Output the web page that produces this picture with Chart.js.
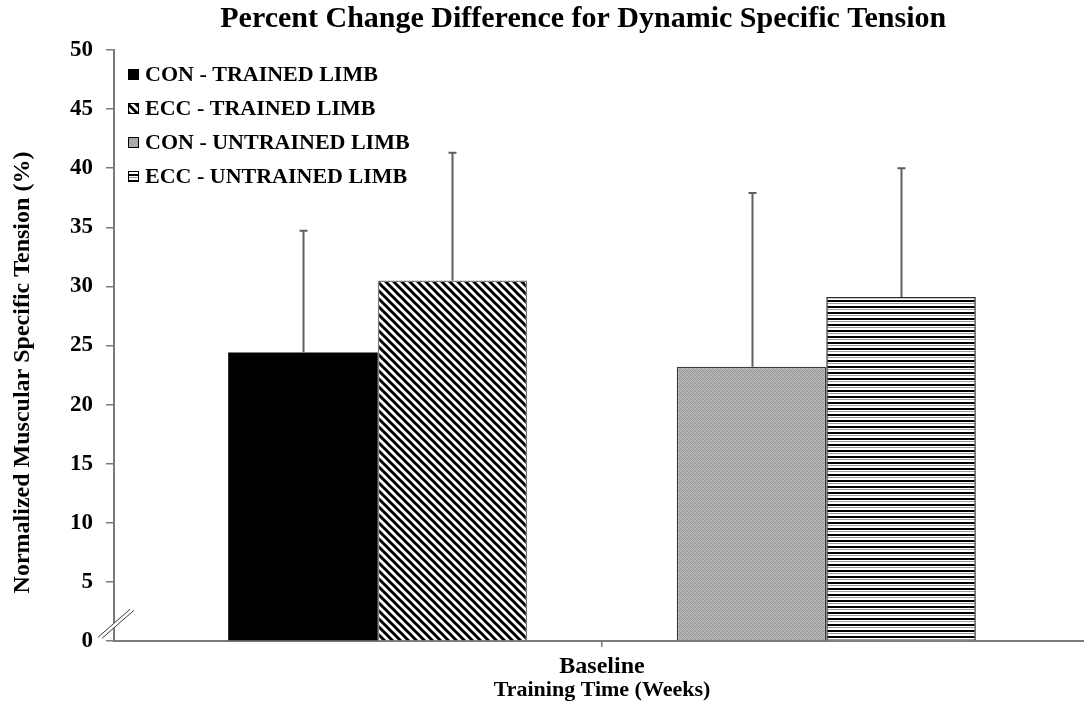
<!DOCTYPE html>
<html>
<head>
<meta charset="utf-8">
<script src="https://cdn.jsdelivr.net/npm/chart.js@4.4.1/dist/chart.umd.min.js"></script>
<style>
  html, body { margin: 0; padding: 0; background: #ffffff; overflow: hidden; }
  #wrap { width: 1084px; height: 714px; overflow: hidden; position: relative; }
  canvas { display: block; }
</style>
</head>
<body>
<div id="wrap"><canvas id="chart" width="1092" height="714"></canvas></div>
<script>
// ---- data ----
const categories = ['Baseline'];
const seriesNames = ['CON - TRAINED LIMB', 'ECC - TRAINED LIMB', 'CON - UNTRAINED LIMB', 'ECC - UNTRAINED LIMB'];
const conTrained = [24.4];
const eccTrained = [30.5];
const conUntrained = [23.2];
const eccUntrained = [29.1];
// upper error (SD) for each bar
const conTrainedSD = [10.3];
const eccTrainedSD = [10.8];
const conUntrainedSD = [14.7];
const eccUntrainedSD = [10.9];
const yTickValues = [0, 5, 10, 15, 20, 25, 30, 35, 40, 45, 50];

const SERIF = '"Liberation Serif", "Times New Roman", serif';
// trailing spaces nudge a centred title off the plot's midline
const pad = (s, n) => s + ' '.repeat(n);

// ---- fill patterns ----
function tile(w, h, paint) {
  const c = document.createElement('canvas');
  c.width = w; c.height = h;
  const g = c.getContext('2d');
  paint(g, w, h);
  return g.createPattern(c, 'repeat');
}
const diagonalStripes = tile(8, 8, (g, w, h) => {
  g.fillStyle = '#ffffff'; g.fillRect(0, 0, w, h);
  g.strokeStyle = '#000000'; g.lineWidth = 3; g.lineCap = 'square';
  for (const o of [-8, 0, 8]) {
    g.beginPath(); g.moveTo(o, 0); g.lineTo(o + 8, 8); g.stroke();
  }
});
const grayStipple = tile(4, 4, (g) => {
  const shades = ['#9c9c9c', '#b2b2b2', '#a8a8a8', '#bababa',
                  '#b0b0b0', '#a0a0a0', '#b8b8b8', '#a4a4a4',
                  '#a6a6a6', '#b6b6b6', '#9e9e9e', '#aeaeae',
                  '#b4b4b4', '#a2a2a2', '#acacac', '#9a9a9a'];
  shades.forEach((s, i) => { g.fillStyle = s; g.fillRect(i % 4, Math.floor(i / 4), 1, 1); });
});
const horizontalStripes = tile(6, 6, (g, w) => {
  const rows = ['#000000', '#000000', '#ffffff', '#9a9a9a', '#ffffff', '#ffffff'];
  rows.forEach((s, i) => { g.fillStyle = s; g.fillRect(0, i, w, 1); });
});

// ---- plugins ----
const errorBars = {
  id: 'errorBars',
  afterDatasetsDraw(chart) {
    const { ctx } = chart;
    const y = chart.scales.y;
    chart.data.datasets.forEach((ds, i) => {
      if (!ds.errors) return;
      const meta = chart.getDatasetMeta(i);
      meta.data.forEach((bar, j) => {
        const v = ds.data[j];
        if (v == null) return;
        const top = y.getPixelForValue(v + ds.errors[j]);
        const x = Math.round(bar.x) + 0.5;
        ctx.save();
        ctx.strokeStyle = '#5f5f5f';
        ctx.lineWidth = 2;
        ctx.beginPath();
        ctx.moveTo(x, bar.y);
        ctx.lineTo(x, top);
        ctx.moveTo(x - 4, top);
        ctx.lineTo(x + 4, top);
        ctx.stroke();
        ctx.restore();
      });
    });
  }
};

const insideLegend = {
  id: 'insideLegend',
  afterDraw(chart) {
    const { ctx, chartArea } = chart;
    const x0 = chartArea.left + 14;
    let row = 0;
    chart.data.datasets.forEach((ds) => {
      if (!ds.label) return;
      const cy = chartArea.top + 25 + row * 34;
      ctx.save();
      ctx.fillStyle = ds.backgroundColor;
      ctx.fillRect(x0, cy - 6, 11, 11);
      ctx.strokeStyle = '#000000';
      ctx.lineWidth = 1;
      ctx.strokeRect(x0 + 0.5, cy - 5.5, 10, 10);
      ctx.fillStyle = '#000000';
      ctx.font = 'bold 22px ' + SERIF;
      ctx.textBaseline = 'middle';
      ctx.textAlign = 'left';
      ctx.fillText(ds.label, x0 + 17, cy);
      ctx.restore();
      row++;
    });
  }
};

// two slanted strokes across the foot of the value axis
const axisBreak = {
  id: 'axisBreak',
  afterDraw(chart) {
    const { ctx, chartArea } = chart;
    const y = chart.scales.y;
    const cx = chartArea.left;
    const cy = y.getPixelForValue(1.5);
    const dx = 16, dy = 14, gap = 4;
    ctx.save();
    ctx.fillStyle = '#ffffff';
    ctx.beginPath();
    ctx.moveTo(cx - dx, cy + dy);
    ctx.lineTo(cx + dx, cy - dy);
    ctx.lineTo(cx + dx + gap, cy - dy + 1);
    ctx.lineTo(cx - dx + gap, cy + dy + 1);
    ctx.closePath();
    ctx.fill();
    ctx.strokeStyle = '#3a3a3a';
    ctx.lineWidth = 1;
    ctx.beginPath();
    ctx.moveTo(cx - dx, cy + dy); ctx.lineTo(cx + dx, cy - dy);
    ctx.moveTo(cx - dx + gap, cy + dy + 1); ctx.lineTo(cx + dx + gap, cy - dy + 1);
    ctx.stroke();
    ctx.restore();
  }
};

// ---- chart ----
new Chart(document.getElementById('chart'), {
  type: 'bar',
  data: {
    labels: categories,
    datasets: [
      { label: seriesNames[0], data: conTrained, errors: conTrainedSD,
        backgroundColor: '#000000', borderColor: '#000000', borderWidth: 0 },
      { label: seriesNames[1], data: eccTrained, errors: eccTrainedSD,
        backgroundColor: diagonalStripes, borderColor: '#7a7a7a', borderWidth: 1.5 },
      { label: '', data: [null] },
      { label: seriesNames[2], data: conUntrained, errors: conUntrainedSD,
        backgroundColor: grayStipple, borderColor: '#3c3c3c', borderWidth: 1.5 },
      { label: seriesNames[3], data: eccUntrained, errors: eccUntrainedSD,
        backgroundColor: horizontalStripes, borderColor: '#2a2a2a', borderWidth: 1.5 }
    ]
  },
  options: {
    responsive: false,
    animation: false,
    devicePixelRatio: 1,
    layout: { padding: { left: 0, right: 2, top: 0, bottom: 0 } },
    datasets: { bar: { categoryPercentage: 0.766, barPercentage: 1.0 } },
    plugins: {
      legend: { display: false },
      tooltip: { enabled: false },
      title: {
        display: true,
        fullSize: false,
        text: pad('Percent Change Difference for Dynamic Specific Tension', 5),
        color: '#000000',
        font: { family: SERIF, size: 30, weight: 'bold' },
        padding: { top: 1, bottom: 13 }
      }
    },
    scales: {
      x: {
        grid: { display: true, drawOnChartArea: false, drawTicks: true, tickLength: 6,
                offset: false, color: '#7a7a7a', lineWidth: 1.5 },
        border: { display: true, color: '#7a7a7a', width: 2 },
        ticks: { color: '#000000', padding: 5, font: { family: SERIF, size: 24, weight: 'bold' } },
        title: { display: true, text: 'Training Time (Weeks)', color: '#000000',
                 font: { family: SERIF, size: 22, weight: 'bold' }, padding: { top: 0, bottom: 10 } },
        afterFit(scale) { scale.height = 73; }
      },
      y: {
        min: 0, max: 50,
        afterBuildTicks(scale) { scale.ticks = yTickValues.map(v => ({ value: v })); },
        grid: { display: true, drawOnChartArea: false, drawTicks: true, tickLength: 8,
                color: '#7a7a7a', lineWidth: 1.5 },
        border: { display: true, color: '#7a7a7a', width: 2 },
        ticks: { color: '#000000', padding: 13, font: { family: SERIF, size: 23, weight: 'bold' } },
        title: { display: true, text: pad('Normalized Muscular Specific Tension (%)', 9), color: '#000000',
                 font: { family: SERIF, size: 24, weight: 'bold' }, padding: { top: 8, bottom: 0 } },
        afterFit(scale) { scale.width = 114; }
      }
    }
  },
  plugins: [errorBars, insideLegend, axisBreak]
});
</script>
</body>
</html>
